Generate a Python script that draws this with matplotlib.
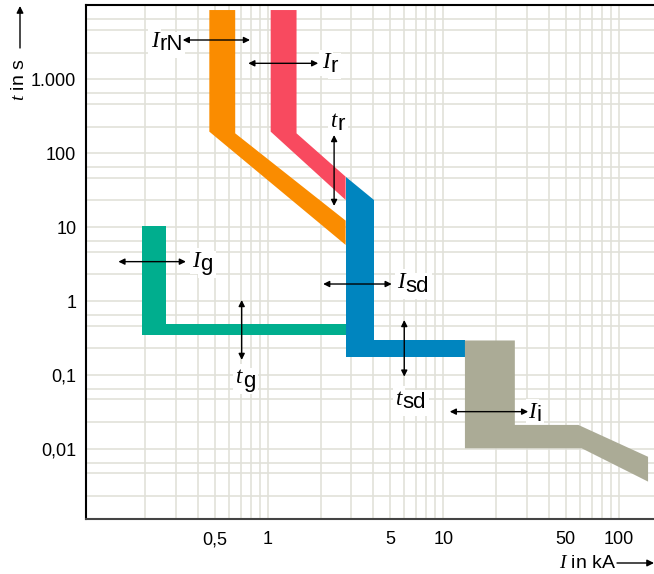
import matplotlib
matplotlib.use('Agg')
import matplotlib.pyplot as plt
from matplotlib.patches import FancyArrowPatch
from matplotlib.ticker import FixedLocator, LogLocator, NullFormatter

plt.rcParams['font.family'] = 'Liberation Sans'
plt.rcParams['mathtext.fontset'] = 'custom'
plt.rcParams['mathtext.it'] = 'Liberation Serif:italic'
plt.rcParams['mathtext.rm'] = 'Liberation Sans'

# axis ticks
xticks = [0.5, 1, 5, 10, 50, 100]
xticklabels = ['0,5', '1', '5', '10', '50', '100']
yticks = [0.01, 0.1, 1, 10, 100, 1000]
yticklabels = ['0,01', '0,1', '1', '10', '100', '1.000']

# tripping bands (current in kA, time in s), polygon outlines
orange_I = [0.465, 0.465, 2.78, 2.78, 0.653, 0.653]
orange_t = [8630, 196, 5.77, 12.3, 186, 8630]
red_I = [1.04, 1.04, 2.78, 2.78, 1.46, 1.46]
red_t = [8630, 196, 23.4, 48.3, 186, 8630]
green_I = [0.193, 0.193, 2.78, 2.78, 0.262, 0.262]
green_t = [10.4, 0.35, 0.35, 0.493, 0.493, 10.4]
blue_I = [2.78, 2.78, 13.3, 13.3, 4.05, 4.05]
blue_t = [48.3, 0.178, 0.178, 0.300, 0.300, 23.4]
grey_I = [13.3, 13.3, 61.5, 147, 147, 58.9, 25.6, 25.6]
grey_t = [0.295, 0.0103, 0.0103, 0.00365, 0.0079, 0.0213, 0.0213, 0.295]

# setting labels
lab_main = ['I', 'I', 't', 'I', 'I', 't', 't', 'I']
lab_sub = ['rN', 'r', 'r', 'g', 'sd', 'g', 'sd', 'i']
lab_I = [0.239, 2.26, 2.48, 0.411, 6.06, 0.714, 5.82, 33.8]
lab_t = [2757, 1408, 228, 2.94, 1.50, 0.078, 0.0397, 0.0265]

# horizontal double arrows
harr_t = [3396, 1644, 3.43, 1.71, 0.0322]
harr_I0 = [0.328, 0.775, 0.141, 2.07, 10.9]
harr_I1 = [0.793, 1.94, 0.342, 5.09, 30.5]
# vertical double arrows
varr_I = [2.39, 0.711, 6.0]
varr_t0 = [176.6, 1.04, 0.558]
varr_t1 = [19.4, 0.161, 0.0957]

fig = plt.figure(figsize=(6.54, 5.74), dpi=100)
ax = fig.add_axes([86/654, 55/574, 568/654, 513.7/574])
ax.set_xscale('log')
ax.set_yscale('log')
ax.set_xlim(0.0922, 158.9)
ax.set_ylim(0.00114, 10000)

ax.xaxis.set_major_locator(FixedLocator(xticks))
ax.xaxis.set_minor_locator(LogLocator(base=10, subs=(2, 3, 4, 5, 6, 7, 8, 9)))
ax.xaxis.set_minor_formatter(NullFormatter())
ax.set_xticklabels(xticklabels)
ax.yaxis.set_major_locator(FixedLocator(yticks))
ax.yaxis.set_minor_locator(LogLocator(base=10, subs=(2.3, 4.7, 6.6)))
ax.yaxis.set_minor_formatter(NullFormatter())
ax.set_yticklabels(yticklabels)
ax.tick_params(which='both', length=0, labelsize=13)
ax.tick_params(axis='y', pad=7)
ax.tick_params(axis='x', pad=9)
ax.grid(True, which='both', color='#e1e1d9', lw=1.2)
ax.set_axisbelow(True)

ax.spines['right'].set_visible(False)
for s in ['left', 'top']:
    ax.spines[s].set_color('black')
    ax.spines[s].set_linewidth(1.5)
ax.spines['bottom'].set_color('#444444')
ax.spines['bottom'].set_linewidth(1.5)

ax.fill(orange_I, orange_t, color='#fa8c00', lw=0, zorder=2)
ax.fill(red_I, red_t, color='#f84a5f', lw=0, zorder=2)
ax.fill(green_I, green_t, color='#00ae8e', lw=0, zorder=2)
ax.fill(blue_I, blue_t, color='#0085bf', lw=0, zorder=3)
# grey band sits above the label boxes so the I_i box does not notch it
ax.fill(grey_I, grey_t, color='#abab96', lw=0, zorder=4.5)

for y, x0, x1 in zip(harr_t, harr_I0, harr_I1):
    ax.annotate('', xy=(x1, y), xytext=(x0, y),
                arrowprops=dict(arrowstyle='<|-|>', color='black', lw=1,
                                mutation_scale=9, shrinkA=0, shrinkB=0), zorder=6)
for x, y0, y1 in zip(varr_I, varr_t0, varr_t1):
    ax.annotate('', xy=(x, y1), xytext=(x, y0),
                arrowprops=dict(arrowstyle='<|-|>', color='black', lw=1,
                                mutation_scale=9, shrinkA=0, shrinkB=0), zorder=6)

box = dict(fc='white', ec='none', pad=2)
for m, s, x, y in zip(lab_main, lab_sub, lab_I, lab_t):
    # white backgrounds first, then the glyphs on top
    for col, z, bb in [('white', 4, box), ('black', 5, None)]:
        ax.annotate(m, (x, y), xytext=(0, 0), textcoords='offset points',
                    ha='right', va='baseline', fontsize=16.5, color=col,
                    family='Liberation Serif', style='italic', bbox=bb, zorder=z)
        ax.annotate(s, (x, y), xytext=(0.5, -2.5), textcoords='offset points',
                    ha='left', va='baseline', fontsize=16, color=col,
                    family='Liberation Sans', bbox=bb, zorder=z)

# axis titles with arrows
fig.text(20/654, 1 - 80/574, r'$t$ in s', rotation=90, ha='center', va='center', fontsize=14)
fig.add_artist(FancyArrowPatch((20/654, 1 - 48/574), (20/654, 1 - 6/574),
               transform=fig.transFigure, arrowstyle='-|>', mutation_scale=10,
               color='black', lw=1, shrinkA=0, shrinkB=0))
fig.text(588/654, 1 - 564/574, r'$I$ in kA', ha='center', va='center', fontsize=14)
fig.add_artist(FancyArrowPatch((617/654, 1 - 563/574), (654/654, 1 - 563/574),
               transform=fig.transFigure, arrowstyle='-|>', mutation_scale=10,
               color='black', lw=1, shrinkA=0, shrinkB=0))

fig.savefig('out.png', dpi=100)
